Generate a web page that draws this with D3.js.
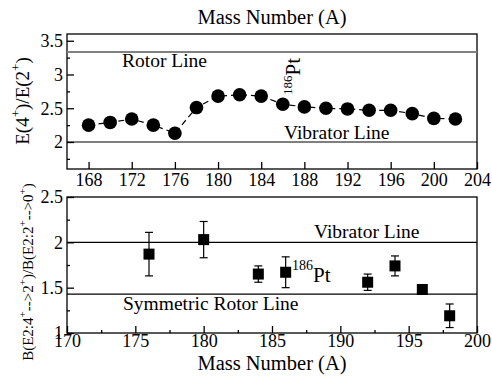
<!DOCTYPE html>
<html>
<head>
<meta charset="utf-8">
<script src="https://cdn.jsdelivr.net/npm/d3@7"></script>
</head>
<body style="margin:0; background:#fff">
<div id="chart"></div>
<script>
// data: top panel, E(4+)/E(2+) ratio
var massTop = [168, 170, 172, 174, 176, 178, 180, 182, 184, 186, 188, 190, 192, 194, 196, 198, 200, 202];
var ratioTop = [2.25, 2.29, 2.34, 2.25, 2.13, 2.51, 2.68, 2.70, 2.68, 2.56, 2.52, 2.50, 2.49, 2.47, 2.47, 2.42, 2.35, 2.34];
var rotorTop = 10 / 3, vibTop = 2;

// bottom panel, B(E2) ratio with errors
var massBot = [176, 180, 184, 186, 192, 194, 196, 198];
var ratioBot = [1.87, 2.03, 1.65, 1.67, 1.56, 1.74, 1.48, 1.19];
var errBot = [0.24, 0.20, 0.09, 0.17, 0.09, 0.11, 0, 0.13];
var vibBot = 2, rotorBot = 10 / 7;

var topXTicks = [168, 172, 176, 180, 184, 188, 192, 196, 200, 204];
var topYTicks = [2, 2.5, 3, 3.5];
var botXTicks = [170, 175, 180, 185, 190, 195, 200];
var botYTicks = [1, 1.5, 2, 2.5];

var W = 492, H = 376;
var left = 67, right = 477;
var FONT = "'Liberation Serif'";
var fmt = d3.format("~g");

var svg = d3.select("#chart").append("svg")
  .attr("width", W).attr("height", H);

function axisStyle(g) {
  g.attr("font-family", null);
  g.select(".domain").remove();
  g.selectAll("line").attr("stroke", "#000").attr("stroke-width", 1.3);
  g.selectAll("text").attr("font-size", 18);
}

// ---------- top panel ----------
var x1 = d3.scaleLinear().domain([166, 204]).range([left, right]);
var y1 = d3.scaleLinear().domain([1.6, 3.6]).range([169, 34]);

var g1 = svg.append("g");

g1.append("rect")
  .attr("x", left).attr("y", y1(3.6))
  .attr("width", right - left).attr("height", y1(1.6) - y1(3.6))
  .attr("fill", "none").attr("stroke", "#000").attr("stroke-width", 1.3);

g1.append("g")
  .attr("transform", "translate(0," + y1(1.6) + ")")
  .call(d3.axisBottom(x1).tickValues(topXTicks).tickFormat(fmt).tickSizeInner(-7).tickSizeOuter(0).tickPadding(4))
  .call(axisStyle);

g1.append("g")
  .attr("transform", "translate(" + left + ",0)")
  .call(d3.axisLeft(y1).tickValues(d3.range(1.75, 3.6, 0.5)).tickSizeInner(-3).tickSizeOuter(0).tickFormat(""))
  .call(axisStyle);

g1.append("g")
  .attr("transform", "translate(" + left + ",0)")
  .call(d3.axisLeft(y1).tickValues(topYTicks).tickFormat(fmt).tickSizeInner(-7).tickSizeOuter(0).tickPadding(4))
  .call(axisStyle);

// reference lines
g1.append("line")
  .attr("x1", left).attr("x2", right)
  .attr("y1", y1(rotorTop)).attr("y2", y1(rotorTop))
  .attr("stroke", "#808080").attr("stroke-width", 2);
g1.append("line")
  .attr("x1", left).attr("x2", right)
  .attr("y1", y1(vibTop)).attr("y2", y1(vibTop))
  .attr("stroke", "#000").attr("stroke-width", 1.2);

g1.append("text").attr("x", 122).attr("y", 67).attr("font-size", 19.5).text("Rotor Line");
g1.append("text").attr("x", 284).attr("y", 139).attr("font-size", 19.5).text("Vibrator Line");

var topData = massTop.map(function(d, i) { return {a: d, v: ratioTop[i]}; });

g1.append("path")
  .datum(topData)
  .attr("fill", "none").attr("stroke", "#000").attr("stroke-width", 1.2)
  .attr("stroke-dasharray", "6,4")
  .attr("d", d3.line().x(function(d) { return x1(d.a); }).y(function(d) { return y1(d.v); }));

g1.selectAll(".dot")
  .data(topData)
  .enter().append("circle")
  .attr("class", "dot")
  .attr("cx", function(d) { return x1(d.a); })
  .attr("cy", function(d) { return y1(d.v); })
  .attr("r", 6.8)
  .attr("fill", "#000");

// 186Pt rotated label
var pt1 = g1.append("text")
  .attr("transform", "translate(300,95) rotate(-90)")
  .attr("font-size", 21);
pt1.append("tspan").attr("font-size", 13).attr("dy", -8).text("186");
pt1.append("tspan").attr("dy", 8).text("Pt");

// title top
svg.append("text")
  .attr("x", (left + right) / 2).attr("y", 24)
  .attr("text-anchor", "middle").attr("font-size", 20.5)
  .text("Mass Number (A)");

// y label top
var yl1 = svg.append("text")
  .attr("transform", "translate(29,101) rotate(-90)")
  .attr("text-anchor", "middle").attr("font-size", 19);
yl1.append("tspan").text("E(4");
yl1.append("tspan").attr("font-size", 13).attr("dy", -9).text("+");
yl1.append("tspan").attr("dy", 9).text(")/E(2");
yl1.append("tspan").attr("font-size", 13).attr("dy", -9).text("+");
yl1.append("tspan").attr("dy", 9).text(")");

// ---------- bottom panel ----------
var x2 = d3.scaleLinear().domain([170, 200]).range([left, right]);
var y2 = d3.scaleLinear().domain([1, 2.5]).range([333, 197]);

var g2 = svg.append("g");

g2.append("rect")
  .attr("x", left).attr("y", y2(2.5))
  .attr("width", right - left).attr("height", y2(1) - y2(2.5))
  .attr("fill", "none").attr("stroke", "#000").attr("stroke-width", 1.3);

g2.append("g")
  .attr("transform", "translate(0," + y2(1) + ")")
  .call(d3.axisBottom(x2).tickValues(d3.range(172.5, 200, 5)).tickSizeInner(-3).tickSizeOuter(0).tickFormat(""))
  .call(axisStyle);

g2.append("g")
  .attr("transform", "translate(0," + y2(1) + ")")
  .call(d3.axisBottom(x2).tickValues(botXTicks).tickFormat(fmt).tickSizeInner(-7).tickSizeOuter(0).tickPadding(1))
  .call(axisStyle);

g2.append("g")
  .attr("transform", "translate(" + left + ",0)")
  .call(d3.axisLeft(y2).tickValues(d3.range(1.25, 2.5, 0.5)).tickSizeInner(-3).tickSizeOuter(0).tickFormat(""))
  .call(axisStyle);

g2.append("g")
  .attr("transform", "translate(" + left + ",0)")
  .call(d3.axisLeft(y2).tickValues(botYTicks).tickFormat(fmt).tickSizeInner(-7).tickSizeOuter(0).tickPadding(4))
  .call(axisStyle);

g2.append("line")
  .attr("x1", left).attr("x2", right)
  .attr("y1", y2(vibBot)).attr("y2", y2(vibBot))
  .attr("stroke", "#000").attr("stroke-width", 1.2);
g2.append("line")
  .attr("x1", left).attr("x2", right)
  .attr("y1", y2(rotorBot)).attr("y2", y2(rotorBot))
  .attr("stroke", "#000").attr("stroke-width", 1.2);

g2.append("text").attr("x", 314).attr("y", 238).attr("font-size", 19.5).text("Vibrator Line");
g2.append("text").attr("x", 123).attr("y", 310).attr("font-size", 19.5).text("Symmetric Rotor Line");

var botData = massBot.map(function(d, i) { return {a: d, v: ratioBot[i], e: errBot[i]}; });

var pts = g2.selectAll(".pt")
  .data(botData)
  .enter().append("g")
  .attr("class", "pt")
  .attr("transform", function(d) { return "translate(" + x2(d.a) + ",0)"; });

pts.filter(function(d) { return d.e > 0; }).each(function(d) {
  var g = d3.select(this);
  g.append("line").attr("y1", y2(d.v - d.e)).attr("y2", y2(d.v + d.e))
    .attr("stroke", "#000").attr("stroke-width", 1.2);
  [d.v - d.e, d.v + d.e].forEach(function(v) {
    g.append("line").attr("x1", -4).attr("x2", 4).attr("y1", y2(v)).attr("y2", y2(v))
      .attr("stroke", "#000").attr("stroke-width", 1.2);
  });
});

pts.append("rect")
  .attr("x", -5.5).attr("width", 11)
  .attr("y", function(d) { return y2(d.v) - 5.5; })
  .attr("height", 11)
  .attr("fill", "#000");

var pt2 = g2.append("text").attr("x", 292).attr("y", 282).attr("font-size", 21);
pt2.append("tspan").attr("font-size", 14).attr("dy", -12).text("186");
pt2.append("tspan").attr("dy", 12).text("Pt");

svg.append("text")
  .attr("x", (left + right) / 2).attr("y", 370)
  .attr("text-anchor", "middle").attr("font-size", 20.5)
  .text("Mass Number (A)");

var yl2 = svg.append("text")
  .attr("transform", "translate(33,272) rotate(-90)")
  .attr("text-anchor", "middle").attr("font-size", 15);
function sup(t) {
  yl2.append("tspan").attr("font-size", 11).attr("dy", -7).text("+");
  yl2.append("tspan").attr("dy", 7).text(t);
}
yl2.append("tspan").text("B(E2:4");
sup("-->2");
sup(")/B(E2:2");
sup("-->0");
sup(")");

svg.selectAll("text")
  .style("font-family", FONT)
  .attr("fill", "#000");
</script>
</body>
</html>
